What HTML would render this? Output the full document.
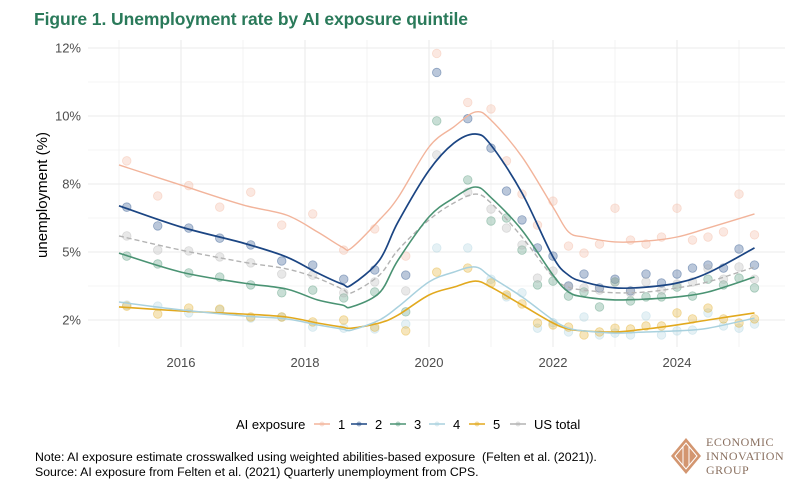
<!DOCTYPE html>
<html><head><meta charset="utf-8">
<style>
body{margin:0;background:#fff;width:800px;height:502px;overflow:hidden;font-family:"Liberation Sans",sans-serif}
svg{display:block}
</style></head>
<body>
<svg id="chart" width="800" height="502" viewBox="0 0 800 502">
<text x="34" y="25" font-size="17.5" font-weight="bold" fill="#2a7a5a" textLength="434">Figure 1. Unemployment rate by AI exposure quintile</text>
<g id="grid"></g>
<g id="yticks"></g>
<g id="xticks"></g>
<text transform="translate(47,195) rotate(-90)" text-anchor="middle" font-size="15" fill="#000">unemployment (%)</text>
<g id="points"></g>
<g id="lines"></g>
<g id="legend"></g>
<text x="35" y="461" font-size="12.3" fill="#000">Note: AI exposure estimate crosswalked using weighted abilities-based exposure&#160; (Felten et al. (2021)).</text>
<text x="35" y="476" font-size="12.3" fill="#000">Source: AI exposure from Felten et al. (2021) Quarterly unemployment from CPS.</text>
<g>
<polygon points="686,438 701,456 686,474 671,456" fill="#d39670"/>
<polygon points="686,443 697,456 686,469 675,456" fill="none" stroke="#fff" stroke-width="1"/>
<line x1="683" y1="447" x2="683" y2="465" stroke="#fff" stroke-width="1"/>
<line x1="689" y1="447" x2="689" y2="465" stroke="#fff" stroke-width="1"/>
<text x="706" y="446" font-family="Liberation Serif,serif" font-size="12" fill="#8a7060" letter-spacing="0.5">ECONOMIC</text>
<text x="706" y="460" font-family="Liberation Serif,serif" font-size="12" fill="#8a7060" letter-spacing="0.5">INNOVATION</text>
<text x="706" y="474" font-family="Liberation Serif,serif" font-size="12" fill="#8a7060" letter-spacing="0.5">GROUP</text>
</g>
</svg>
<script>
const times=[2015.125,2015.625,2016.125,2016.625,2017.125,2017.625,2018.125,2018.625,2019.125,2019.625,2020.125,2020.625,2021.0,2021.25,2021.5,2021.75,2022.0,2022.25,2022.5,2022.75,2023.0,2023.25,2023.5,2023.75,2024.0,2024.25,2024.5,2024.75,2025.0,2025.25];
const q1=[8.35,7.06,7.44,6.65,7.2,5.99,6.4,5.07,5.85,4.85,12.3,10.5,10.26,8.35,7.13,5.99,6.87,5.22,4.96,5.29,6.61,5.44,5.29,5.55,6.61,5.44,5.55,5.74,7.13,5.63];
const q2=[6.65,5.96,5.88,5.51,5.26,4.67,4.52,4.0,4.34,4.15,11.6,9.9,8.82,7.24,6.18,5.15,4.85,3.75,4.19,3.68,4.0,3.57,4.19,3.86,4.19,4.41,4.52,4.41,5.11,4.52];
const q3=[4.85,4.56,4.23,4.08,3.79,3.5,3.6,3.31,3.53,2.8,9.82,7.65,6.14,6.25,5.07,3.79,3.93,3.38,3.53,2.98,3.9,3.2,3.35,3.35,3.71,3.38,4.0,3.79,4.04,3.68];
const q4=[3.05,3.01,2.76,2.87,2.57,2.61,2.24,2.2,2.17,2.35,5.15,5.15,4.0,3.35,3.5,2.2,2.4,2.06,2.61,1.95,2.02,1.95,2.65,1.95,2.1,2.13,2.76,2.28,2.2,2.35];
const q5=[3.01,2.72,2.94,2.9,2.61,2.61,2.43,2.5,2.24,2.1,4.26,4.41,3.86,3.42,3.09,2.39,2.32,2.24,1.95,2.06,2.2,2.17,2.28,2.28,2.76,2.54,2.94,2.54,2.39,2.54];
const usTotal=[5.59,5.07,5.04,4.82,4.6,4.19,4.15,3.5,3.9,3.57,8.57,7.2,6.58,5.88,5.26,4.04,4.3,3.71,3.68,3.6,3.9,3.5,3.9,3.6,3.82,3.9,4.38,4.0,4.45,4.0];
const trendTimes=[2015.0,2016,2017,2017.7,2018.2,2018.6,2018.75,2019.2,2019.5,2020.0,2020.4,2020.75,2021.0,2021.5,2022.0,2022.25,2022.5,2023.0,2023.5,2024.0,2024.5,2025.25];
const t1=[8.2,7.46,6.73,6.36,5.74,5.18,5.15,6.18,7.0,8.86,9.6,10.15,9.85,8.5,6.65,5.74,5.55,5.37,5.4,5.55,5.88,6.4];
const t2=[6.7,5.92,5.33,4.82,4.23,3.82,3.79,4.7,6.1,8.0,9.0,9.34,8.93,7.17,4.82,4.15,3.9,3.68,3.71,3.86,4.23,5.15];
const t3=[4.96,4.26,3.86,3.64,3.24,3.05,2.98,3.5,4.7,6.29,6.99,7.39,7.0,5.8,4.15,3.53,3.35,3.24,3.27,3.35,3.53,4.08];
const t4=[3.16,2.87,2.65,2.54,2.32,2.17,2.13,2.5,2.98,3.9,4.26,4.45,4.08,3.35,2.5,2.2,2.1,2.02,2.06,2.1,2.2,2.57];
const t5=[2.98,2.83,2.72,2.61,2.39,2.24,2.2,2.39,2.68,3.42,3.71,3.93,3.71,3.05,2.39,2.17,2.1,2.06,2.17,2.32,2.5,2.76];
const tUS=[5.59,5.07,4.63,4.38,4.04,3.64,3.5,4.15,5.07,6.18,6.8,7.13,6.8,5.55,4.08,3.71,3.6,3.5,3.53,3.68,3.9,4.45];
const yTickVals=[2.5,5,7.5,10,12.5];
const yTickLabels=["2%","5%","8%","10%","12%"];
const xTickVals=[2016,2018,2020,2022,2024];
const legendLabels=["1","2","3","4","5","US total"];

const NS="http://www.w3.org/2000/svg";
function X(t){return 181+(t-2016)*62;}
function Y(v){return 320-(v-2.5)*27.2;}
function mk(tag,attrs,parent){const e=document.createElementNS(NS,tag);for(const k in attrs)e.setAttribute(k,attrs[k]);parent.appendChild(e);return e;}
const grid=document.getElementById('grid');
for(let v=1.25;v<=13.75;v+=1.25){const y=Y(v);if(y<40||y>348)continue;
 const l=mk('line',{x1:88,x2:785,y1:y,y2:y,stroke:'#ebebeb','stroke-width':(v%2.5===0)?1.1:0.6},grid);
 
 }
for(let t=2015;t<=2025;t++){
 const l=mk('line',{x1:X(t),x2:X(t),y1:40,y2:347,stroke:'#ebebeb','stroke-width':(t%2===0)?1.1:0.6},grid);
 
 }
const yt=document.getElementById('yticks');
yTickVals.forEach((v,i)=>{const e=mk('text',{x:81,y:Y(v)+4.5,'text-anchor':'end','font-size':13,fill:'#4d4d4d'},yt);e.textContent=yTickLabels[i];
 
 });
const xt=document.getElementById('xticks');
xTickVals.forEach(t=>{const e=mk('text',{x:X(t),y:367,'text-anchor':'middle','font-size':13,fill:'#4d4d4d'},xt);e.textContent=t;
 
 });
const series=[
 {name:'1',pts:q1,tr:t1,col:'#f2b49b',w:1.4,dash:null},
 {name:'2',pts:q2,tr:t2,col:'#1b4583',w:1.7,dash:null},
 {name:'3',pts:q3,tr:t3,col:'#4a9373',w:1.6,dash:null},
 {name:'4',pts:q4,tr:t4,col:'#a9d1de',w:1.5,dash:null},
 {name:'5',pts:q5,tr:t5,col:'#e2a91e',w:1.6,dash:null},
 {name:'us',pts:usTotal,tr:tUS,col:'#b3b3b3',w:1.4,dash:'5,3'}];
const pg=document.getElementById('points');
series.forEach(s=>{s.pts.forEach((v,i)=>{const c=mk('circle',{cx:X(times[i]),cy:Y(v),r:4.3,fill:s.col,'fill-opacity':0.3,stroke:s.col,'stroke-opacity':0.4,'stroke-width':0.8},pg);
 
 });});
function path(ts,vs){const P=ts.map((t,i)=>[X(t),Y(vs[i])]);let d='M'+P[0][0]+','+P[0][1];
 for(let i=0;i<P.length-1;i++){const p0=P[Math.max(0,i-1)],p1=P[i],p2=P[i+1],p3=P[Math.min(P.length-1,i+2)];
  const c1=[p1[0]+(p2[0]-p0[0])/6,p1[1]+(p2[1]-p0[1])/6],c2=[p2[0]-(p3[0]-p1[0])/6,p2[1]-(p3[1]-p1[1])/6];
  d+=`C${c1[0].toFixed(1)},${c1[1].toFixed(1)} ${c2[0].toFixed(1)},${c2[1].toFixed(1)} ${p2[0].toFixed(1)},${p2[1].toFixed(1)}`;}
 return d;}
const lg=document.getElementById('lines');
series.slice().reverse().forEach(s=>{const a={d:path(trendTimes,s.tr),fill:'none',stroke:s.col,'stroke-width':s.w};if(s.dash)a['stroke-dasharray']=s.dash;
 const p=mk('path',a,lg);
 
 });
const leg=document.getElementById('legend');
const lt=mk('text',{x:236,y:429,'font-size':13,fill:'#000'},leg);lt.textContent='AI exposure';


const lx=[314,351,390,429,469,510];
series.forEach((s,i)=>{const g=mk('g',{},leg);
 
 
 mk('line',{x1:lx[i],x2:lx[i]+16,y1:424,y2:424,stroke:s.col,'stroke-width':1.5},g);
 mk('circle',{cx:lx[i]+8,cy:424,r:2.5,fill:s.col,'fill-opacity':0.4},g);
 const t=mk('text',{x:lx[i]+24,y:429,'font-size':13,fill:'#000'},g);t.textContent=legendLabels[i];});
</script>
</body></html>
